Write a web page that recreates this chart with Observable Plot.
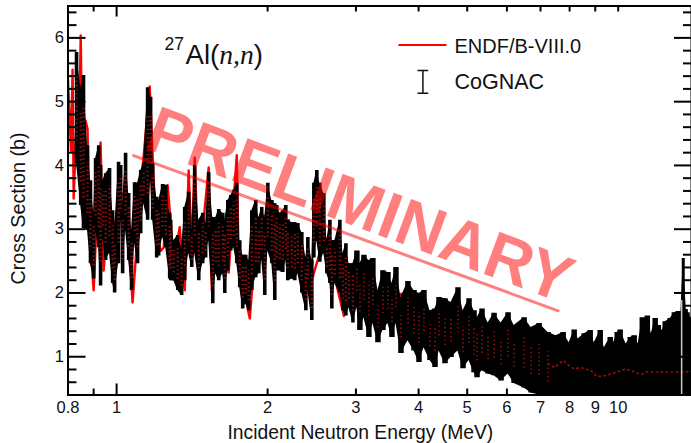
<!DOCTYPE html>
<html><head><meta charset="utf-8">
<script src="https://cdn.jsdelivr.net/npm/d3@7"></script>
<script src="https://cdn.jsdelivr.net/npm/@observablehq/plot@0.6"></script>
<style>html,body{margin:0;padding:0;background:#fff}svg{display:block}</style>
</head><body><div id="c"></div>
<script>
// CoGNAC points: energy (MeV), upper and lower end of the error bar (b)
const energy = [0.832,0.848,0.859,0.875,0.887,0.900,0.908,0.921,0.929,0.938,0.951,0.968,0.982,0.991,1.009,1.019,1.028,1.042,1.057,1.071,1.086,1.101,1.117,1.132,1.153,1.169,1.180,1.202,1.213,1.235,1.253,1.276,1.282,1.300,1.324,1.348,1.367,1.392,1.412,1.431,1.458,1.485,1.505,1.526,1.555,1.576,1.598,1.628,1.643,1.666,1.689,1.712,1.736,1.760,1.784,1.809,1.834,1.860,1.894,1.921,1.947,1.974,2.002,2.039,2.067,2.086,2.115,2.145,2.174,2.194,2.235,2.266,2.298,2.340,2.384,2.406,2.450,2.473,2.507,2.542,2.589,2.625,2.662,2.686,2.723,2.787,2.826,2.865,2.905,2.959,3.013,3.055,3.112,3.184,3.243,3.319,3.396,3.475,3.539,3.605,3.689,3.809,3.916,4.007,4.100,4.215,4.313,4.393,4.516,4.642,4.793,4.905,5.042,5.159,5.231,5.352,5.502,5.656,5.841,6.032,6.200,6.493,6.704,6.955,7.249,7.520,7.767,7.983,8.170,8.321,8.554,8.793,8.958,9.207,9.379,9.640,9.773,9.955,10.09,10.37,10.57,10.76,10.96,11.17,11.27,11.43,11.64,11.85,12.02,12.24,12.41,12.70,12.94,13.18,13.30,13.48,13.67,13.79,13.99];
const upper = [5.77,5.22,5.41,4.31,3.76,3.26,4.11,4.31,4.00,3.76,3.87,3.95,3.29,2.98,4.05,4.00,3.40,4.19,3.56,2.98,3.73,3.72,3.92,4.03,5.22,5.07,4.03,3.50,3.45,3.70,3.69,3.25,3.14,2.82,2.90,2.71,3.34,3.58,2.98,4.00,3.14,3.25,3.09,3.89,3.18,3.18,3.31,3.25,3.14,3.45,3.53,3.61,3.72,2.82,2.59,2.59,2.51,3.29,3.45,3.18,3.34,3.18,3.72,3.45,3.40,3.37,3.25,3.29,3.37,3.14,3.10,3.10,3.09,2.95,2.55,2.87,2.51,3.72,3.92,3.72,3.56,2.82,3.14,2.82,2.82,3.14,2.62,2.77,2.46,2.46,2.66,2.46,2.59,2.51,2.54,2.04,2.35,2.32,2.15,2.40,1.93,2.18,2.04,1.99,2.04,1.72,1.75,1.93,1.91,1.85,2.08,1.72,1.91,1.72,1.61,1.75,1.53,1.68,1.53,1.69,1.49,1.61,1.46,1.52,1.38,1.33,1.38,1.22,1.42,1.28,1.36,1.41,1.22,1.41,1.14,1.30,1.20,1.38,1.42,1.20,1.30,1.33,1.20,1.61,1.30,1.64,1.36,1.60,1.49,1.41,1.55,1.60,1.69,1.71,1.49,2.54,1.74,1.69,1.60];
const lower = [4.03,3.37,3.01,2.98,2.46,2.22,2.98,2.71,2.11,2.87,2.51,2.62,2.15,2.00,2.46,3.14,2.30,2.98,2.51,2.04,2.77,2.46,2.93,3.40,3.14,3.76,3.14,2.55,2.58,2.87,2.71,2.22,2.19,2.19,2.04,1.96,2.19,2.62,2.40,2.62,2.19,2.46,2.55,2.82,1.83,2.30,2.19,2.30,1.99,2.35,2.66,2.71,2.46,2.08,1.75,1.83,1.72,2.04,2.24,2.30,2.51,1.96,2.66,2.46,1.88,2.35,2.35,2.32,2.51,2.19,2.22,2.19,2.30,2.00,1.72,2.04,1.57,2.55,2.82,2.48,2.62,2.30,2.15,1.75,2.15,2.00,1.72,1.64,1.77,1.53,1.77,1.41,1.61,1.30,1.52,1.22,1.41,1.52,1.30,1.52,1.05,1.25,1.09,0.91,1.14,0.94,0.83,1.09,0.89,0.99,1.09,0.81,0.94,0.75,0.67,0.78,0.73,0.70,0.62,0.73,0.58,0.51,0.43,0.40,0.30,0.30,0.30,0.30,0.30,0.30,0.30,0.30,0.30,0.30,0.30,0.30,0.30,0.30,0.30,0.30,0.30,0.30,0.30,0.30,0.30,0.30,0.30,0.30,0.30,0.30,0.30,0.30,0.30,0.30,0.30,0.30,0.30,0.30,0.30];
// ENDF/B-VIII.0 evaluation
const endfEnergy = [0.80,0.811,0.817,0.821,0.832,0.840,0.848,0.855,0.867,0.875,0.883,0.900,0.916,0.929,0.942,0.970,0.982,1.009,1.042,1.076,1.117,1.164,1.196,1.224,1.241,1.264,1.300,1.336,1.367,1.392,1.412,1.431,1.458,1.526,1.548,1.562,1.628,1.673,1.736,1.752,1.843,1.903,2.048,2.125,2.204,2.330,2.450,2.600,2.839,3.000,3.370,3.706,4.050,4.642,5.231,5.500,5.840,6.200,6.490,6.700,6.955,7.250,7.470,7.770,7.980,8.170,8.440,8.830,9.040,9.250,9.680,10.37,11.12,11.37,12.19,13.36,14.0];
const endfValue = [5.36,4.23,5.50,3.48,4.70,3.92,6.04,3.92,4.70,4.58,2.98,2.04,3.45,4.36,2.35,3.45,2.82,3.45,3.60,1.85,3.61,5.24,3.06,2.66,2.71,3.69,2.51,3.03,2.04,3.92,2.66,4.12,2.35,3.97,2.04,3.14,2.43,2.32,4.16,2.43,1.60,2.98,3.42,2.35,3.14,2.40,2.20,2.90,1.64,2.20,1.88,1.99,1.41,1.25,1.33,1.17,1.33,1.25,1.17,1.09,1.05,0.89,0.83,0.94,0.86,0.81,0.83,0.78,0.70,0.69,0.73,0.81,0.72,0.76,0.76,0.76,0.77];

const xMajor = [1];
const xMinor = [0.9,2,3,4,5,6,7,8,9,10];
const xLabels = [0.8,1,2,3,4,5,6,7,8,9,10];
const yMajor = [1,2,3,4,5,6];
const yMinor = [0.6,0.8,1.2,1.4,1.6,1.8,2.2,2.4,2.6,2.8,3.2,3.4,3.6,3.8,4.2,4.4,4.6,4.8,5.2,5.4,5.6,5.8,6.2,6.4];

const stampLineE = [1.081,7.59];
const stampLineY = [4.155,1.72];
const legendLineE = [3.66,4.53];
const legendLineY = [5.89,5.89];
const legendBarE = [4.08,4.08];
const legendBarY = [5.49,5.13];
const legendCapE = [3.99,4.17];
const lastGapE = 13.38;

const pts = energy.map((e,i)=>({e,hi:upper[i],lo:lower[i]}));
const endf = endfEnergy.map((e,i)=>({e,v:endfValue[i]}));
const sans = "'Liberation Sans',Arial,sans-serif";
const serif = "'Liberation Serif','Times New Roman',serif";

// text placed by page pixel, measured from the frame's top-left corner
const L = 67.5, T = 5.5;
const label = (s,px,py,o={}) => Plot.text([s],{text:d=>d,frameAnchor:"top-left",dx:px-L,dy:py-T,lineAnchor:"bottom",textAnchor:"start",fontFamily:sans,fill:"#111",...o});
const xTicks = (vals,a,b) => Plot.ruleX(vals,{y1:a,y2:b,stroke:"#000",strokeWidth:2});
const ladder = (rows,f,c,w) => Plot.ruleX(rows,{x:"e",y1:d=>d.lo+f*(d.hi-d.lo),y2:d=>d.hi-f*(d.hi-d.lo),stroke:c,strokeWidth:w,strokeDasharray:"1.4,2.8",clip:true});

const plot = Plot.plot({
  width:691,height:443,marginLeft:L,marginRight:0,marginTop:T,marginBottom:48.5,
  style:{fontFamily:sans,background:"#fff",overflow:"hidden"},
  x:{type:"log",domain:[0.8,14],axis:null},
  y:{domain:[0.4,6.5]},
  marks:[
    Plot.line(endf,{x:"e",y:"v",stroke:"#ff0000",strokeWidth:2.4,clip:true}),
    Plot.areaY(pts,{x:"e",y1:"lo",y2:"hi",fill:"#000",clip:true}),
    Plot.ruleX(pts.filter(d=>d.e<3),{x:"e",y1:"lo",y2:"hi",stroke:"#000",strokeWidth:3.6,clip:true}),
    Plot.ruleX(pts.filter(d=>d.e>=3&&d.e<13.4),{x:"e",y1:"lo",y2:"hi",stroke:"#000",strokeWidth:5.5,clip:true}),
    Plot.ruleX(pts.filter(d=>d.e>=13.4),{x:"e",y1:"lo",y2:"hi",stroke:"#000",strokeWidth:3,clip:true}),
    ladder(pts.filter(d=>d.e<3),0.2,"#8f1010",2.4),
    ladder(pts.filter(d=>d.e>=3&&d.e<7.4),0.28,"#7a0c0c",2),
    Plot.line(endf.filter(d=>d.e>=7.2),{x:"e",y:"v",stroke:"#8f1010",strokeWidth:1.6,strokeDasharray:"1.5,3.5",clip:true}),
    Plot.ruleX([lastGapE],{y1:0.4,y2:1.88,stroke:"#c8c8c8",strokeWidth:1.5}),

    Plot.axisY(yMajor,{anchor:"left",tickSize:-18,strokeWidth:2,text:null,label:null}),
    Plot.axisY(yMinor,{anchor:"left",tickSize:-9,strokeWidth:2,text:null,label:null}),
    Plot.axisY(yMajor,{anchor:"right",tickSize:-18,strokeWidth:2,text:null,label:null}),
    Plot.axisY(yMinor,{anchor:"right",tickSize:-9,strokeWidth:2,text:null,label:null}),
    xTicks(xMajor,0.4,0.573),
    xTicks(xMinor,0.4,0.494),
    xTicks(xMajor,6.5,6.327),
    xTicks(xMinor,6.5,6.406),
    Plot.text(xLabels,{x:d=>d,text:d=>String(d),frameAnchor:"bottom",dy:12.5,lineAnchor:"middle",fontSize:16.5,fill:"#111",fontFamily:sans}),
    Plot.axisY(yMajor,{anchor:"left",tickSize:0,tickPadding:4,fontSize:16.5,tickFormat:d=>String(d),label:null,fill:"#111"}),
    Plot.frame({stroke:"#000",strokeWidth:2}),

    label("Incident Neutron Energy (MeV)",227,438,{fontSize:19.3}),
    Plot.text(["Cross Section (b)"],{text:d=>d,frameAnchor:"top-left",dx:24-L,dy:208-T,rotate:-90,lineAnchor:"bottom",textAnchor:"middle",fontFamily:sans,fontSize:19.7,fill:"#111"}),

    label("27",164,49,{fontSize:17.5}),
    label("Al(",185,63,{fontSize:27.6}),
    label("n,n",218.7,63,{fontSize:27.6,fontFamily:serif,fontStyle:"italic"}),
    label(")",253.2,63,{fontSize:27.6}),

    Plot.line(legendLineE.map((e,i)=>({e,v:legendLineY[i]})),{x:"e",y:"v",stroke:"#ff0000",strokeWidth:2}),
    label("ENDF/B-VIII.0",454,52.5,{fontSize:20}),
    Plot.line(legendBarE.map((e,i)=>({e,v:legendBarY[i]})),{x:"e",y:"v",stroke:"#111",strokeWidth:1.5}),
    Plot.line(legendCapE.map(e=>({e,v:legendBarY[0]})),{x:"e",y:"v",stroke:"#111",strokeWidth:1.5}),
    Plot.line(legendCapE.map(e=>({e,v:legendBarY[1]})),{x:"e",y:"v",stroke:"#111",strokeWidth:1.5}),
    label("CoGNAC",454,88.5,{fontSize:21.5}),

    Plot.line(stampLineE.map((e,i)=>({e,v:stampLineY[i]})),{x:"e",y:"v",stroke:"#ff0000",strokeOpacity:0.5,strokeWidth:3}),
    label("PRELIMINARY",142,147,{fontSize:65.4,fontWeight:"bold",fill:"#ff0000",fillOpacity:0.5,rotate:20.35})
  ]
});
document.getElementById("c").appendChild(plot);
</script></body></html>
